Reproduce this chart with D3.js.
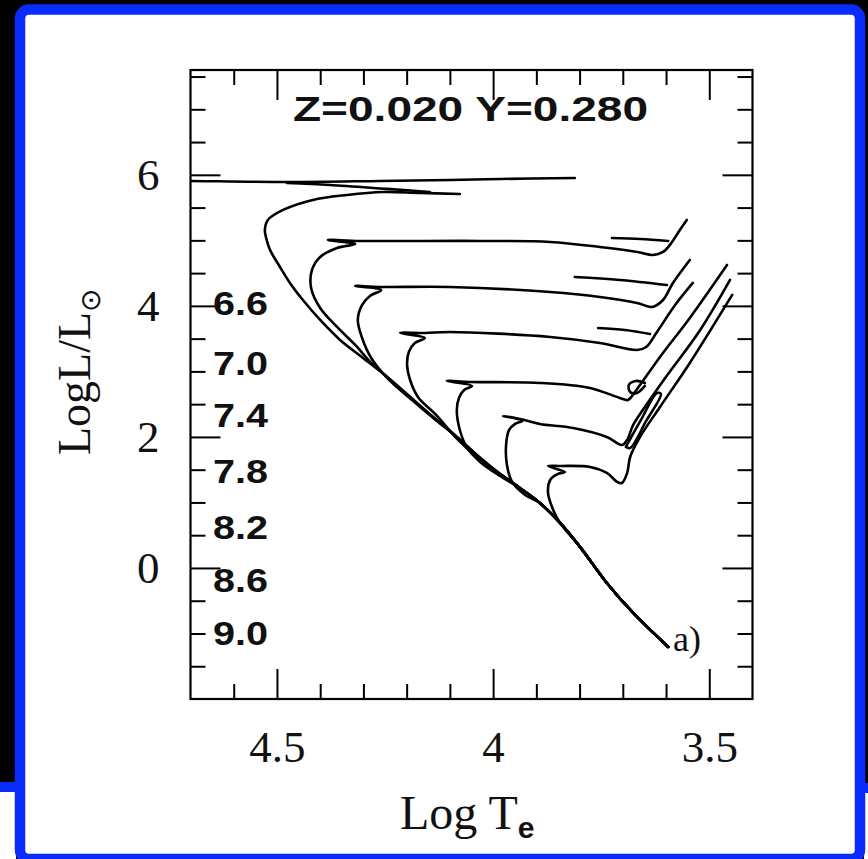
<!DOCTYPE html>
<html><head><meta charset="utf-8">
<script src="https://cdn.jsdelivr.net/npm/d3@7/dist/d3.min.js"></script>
<style>html,body{margin:0;padding:0;background:#000;}svg{display:block;}</style>
</head><body>
<svg id="chart" width="868" height="859"></svg>
<script>
// ---------- data (log Te, log L/Lsun) ----------
const xMajorTicks = [4.5, 4.0, 3.5];
const xMinorTicks = [4.6, 4.4, 4.3, 4.2, 4.1, 3.9, 3.8, 3.7, 3.6];
const yMajorTicks = [0, 2, 4, 6];
const yMinorTicks = [-1.5, -1, -0.5, 0.5, 1, 1.5, 2.5, 3, 3.5, 4.5, 5, 5.5, 6.5, 7, 7.5];
const ageLabels = ["6.6", "7.0", "7.4", "7.8", "8.2", "8.6", "9.0"];
const ageLabelLogL = [4.04, 3.13, 2.33, 1.48, 0.63, -0.18, -0.99];
const ageLabelLogTe = 4.648;
const titleText = "Z=0.020 Y=0.280";
const panelTag = "a)";
const panelTagPos = [3.584, -1.27];

const iso66 = [[3.595,-1.206],[3.676,-0.687],[3.737,-0.229],[3.799,0.321],[3.845,0.687],[3.892,0.992],[3.938,1.221],[3.984,1.435],[4.030,1.679],[4.084,2.000],[4.139,2.305],[4.192,2.610],[4.245,2.915],[4.301,3.205],[4.354,3.480],[4.400,3.785],[4.440,4.090],[4.470,4.350],[4.493,4.594],[4.516,4.853],[4.525,5.037],[4.528,5.159],[4.521,5.311],[4.486,5.464],[4.417,5.617],[4.338,5.693],[4.255,5.739],[4.169,5.723],[4.077,5.708]];
const iso66Top = [[3.811,5.952],[3.984,5.937],[4.100,5.922],[4.262,5.907],[4.470,5.891],[4.699,5.907],[4.724,5.907]];
const iso66Inner = [[4.477,5.876],[4.377,5.845],[4.245,5.785],[4.146,5.739]];

const iso70 = [[3.595,-1.206],[3.676,-0.687],[3.737,-0.229],[3.799,0.321],[3.845,0.687],[3.892,0.992],[3.938,1.221],[3.984,1.435],[4.030,1.679],[4.084,2.000],[4.139,2.305],[4.192,2.610],[4.245,2.915],[4.280,3.114],[4.319,3.404],[4.361,3.678],[4.400,3.968],[4.421,4.274],[4.419,4.548],[4.400,4.747],[4.361,4.884],[4.319,4.945],[4.382,5.006],[4.308,4.991],[4.030,4.991],[3.868,4.976],[3.753,4.899],[3.667,4.823],[3.630,4.777],[3.607,4.823],[3.591,4.930],[3.568,5.159],[3.552,5.311]];
const iso70Loop = [[3.725,5.037],[3.660,5.021],[3.595,4.991]];

const iso74 = [[3.595,-1.206],[3.676,-0.687],[3.737,-0.229],[3.799,0.321],[3.845,0.687],[3.892,0.992],[3.938,1.221],[3.984,1.435],[4.030,1.679],[4.084,2.000],[4.130,2.244],[4.185,2.549],[4.243,2.885],[4.282,3.205],[4.303,3.510],[4.313,3.785],[4.303,4.014],[4.285,4.151],[4.259,4.243],[4.319,4.304],[4.262,4.289],[4.100,4.289],[3.868,4.212],[3.753,4.136],[3.667,4.045],[3.632,3.984],[3.607,4.090],[3.584,4.350],[3.545,4.701]];
const iso74Loop = [[3.811,4.441],[3.707,4.396],[3.598,4.319]];

const iso78 = [[3.595,-1.206],[3.676,-0.687],[3.737,-0.229],[3.799,0.321],[3.845,0.687],[3.892,0.992],[3.938,1.221],[3.984,1.435],[4.030,1.648],[4.081,1.954],[4.134,2.350],[4.174,2.610],[4.192,2.869],[4.199,3.098],[4.195,3.297],[4.181,3.434],[4.158,3.510],[4.215,3.587],[4.158,3.587],[4.100,3.602],[3.868,3.526],[3.753,3.434],[3.667,3.327],[3.646,3.373],[3.621,3.602],[3.579,4.014],[3.538,4.350]];
const iso78Loop = [[3.757,3.663],[3.695,3.632],[3.637,3.571]];

const iso82 = [[3.595,-1.206],[3.676,-0.687],[3.737,-0.229],[3.799,0.321],[3.845,0.687],[3.892,0.992],[3.938,1.221],[3.984,1.404],[4.030,1.618],[4.060,1.832],[4.077,2.106],[4.084,2.411],[4.079,2.595],[4.067,2.717],[4.049,2.778],[4.107,2.854],[4.054,2.839],[3.892,2.824],[3.776,2.747],[3.707,2.595],[3.688,2.564],[3.672,2.686],[3.614,3.220],[3.545,3.816],[3.459,4.624]];
const iso82Loop = [[3.649,2.824],[3.670,2.854],[3.686,2.793],[3.683,2.686],[3.667,2.671],[3.649,2.778]];

const iso86 = [[3.595,-1.206],[3.676,-0.687],[3.737,-0.229],[3.799,0.321],[3.845,0.687],[3.892,0.992],[3.926,1.114],[3.956,1.313],[3.968,1.572],[3.970,1.877],[3.963,2.106],[3.949,2.198],[3.933,2.244],[3.977,2.320],[3.938,2.274],[3.892,2.198],[3.815,2.137],[3.737,2.000],[3.702,1.877],[3.690,1.954],[3.676,2.183],[3.649,2.457],[3.602,2.900],[3.521,3.632],[3.452,4.396]];
const iso86Loop = [[3.693,1.847],[3.658,2.259],[3.621,2.671],[3.612,2.656],[3.646,2.244],[3.683,1.832],[3.693,1.847]];

const iso90 = [[3.595,-1.206],[3.676,-0.687],[3.737,-0.229],[3.799,0.321],[3.845,0.687],[3.861,0.885],[3.873,1.145],[3.868,1.343],[3.850,1.435],[3.834,1.465],[3.873,1.557],[3.845,1.557],[3.776,1.542],[3.737,1.450],[3.713,1.313],[3.702,1.297],[3.690,1.450],[3.683,1.694],[3.660,2.000],[3.614,2.457],[3.545,3.129],[3.447,4.167]];

const allTracks = [iso66, iso66Top, iso66Inner, iso70, iso70Loop, iso74, iso74Loop,
  iso78, iso78Loop, iso82, iso82Loop, iso86, iso86Loop, iso90];

// ---------- drawing ----------
const BLUE = "#0a2cfb";
const svg = d3.select("#chart");
svg.append("rect").attr("width", 868).attr("height", 859).attr("fill", "#000");
svg.append("rect").attr("x", 0).attr("y", 782).attr("width", 16).attr("height", 10).attr("fill", BLUE);
svg.append("rect").attr("x", 0).attr("y", 792).attr("width", 16).attr("height", 67).attr("fill", "#fff");
svg.append("rect").attr("x", 864).attr("y", 783).attr("width", 4).attr("height", 10).attr("fill", BLUE);
svg.append("rect").attr("x", 864).attr("y", 793).attr("width", 4).attr("height", 66).attr("fill", "#fff");
svg.append("rect").attr("x", 20).attr("y", 9.5).attr("width", 840).attr("height", 849.5)
  .attr("rx", 9).attr("fill", "#fff").attr("stroke", BLUE).attr("stroke-width", 10.5);

const x = d3.scaleLinear().domain([4.7, 3.4]).range([190.5, 752.5]);
const y = d3.scaleLinear().domain([-2, 7.6]).range([699, 70]);
const [x0, x1] = x.range();
const [y0, y1] = y.range();

svg.append("defs").append("clipPath").attr("id", "plotclip")
  .append("rect").attr("x", x0).attr("y", y1).attr("width", x1 - x0).attr("height", y0 - y1);

// tracks
const line = d3.line().x(d => x(d[0])).y(d => y(d[1])).curve(d3.curveCatmullRom.alpha(0.5));
svg.append("g").attr("clip-path", "url(#plotclip)")
  .selectAll("path").data(allTracks).join("path")
  .attr("d", line).attr("fill", "none").attr("stroke", "#000")
  .attr("stroke-width", 2.6).attr("stroke-linejoin", "round").attr("stroke-linecap", "round");

// axes (ticks inside on all four sides)
function styleAxis(g) {
  g.select(".domain").remove();
  g.selectAll(".tick line").attr("stroke", "#000").attr("stroke-width", 2);
}
svg.append("g").attr("transform", `translate(0,${y0})`)
  .call(d3.axisBottom(x).tickValues(xMinorTicks).tickSize(-15).tickFormat("")).call(styleAxis);
svg.append("g").attr("transform", `translate(0,${y1})`)
  .call(d3.axisTop(x).tickValues(xMinorTicks).tickSize(-15).tickFormat("")).call(styleAxis);
svg.append("g").attr("transform", `translate(0,${y1})`)
  .call(d3.axisTop(x).tickValues(xMajorTicks).tickSize(-30).tickFormat("")).call(styleAxis);
const xb = svg.append("g").attr("transform", `translate(0,${y0})`)
  .call(d3.axisBottom(x).tickValues(xMajorTicks).tickSize(-30).tickPadding(31).tickFormat(d => String(d)))
  .call(styleAxis);
xb.selectAll("text").attr("font-family", "'Liberation Serif', 'DejaVu Serif', serif").attr("font-size", 45).attr("fill", "#111");

svg.append("g").attr("transform", `translate(${x0},0)`)
  .call(d3.axisLeft(y).tickValues(yMinorTicks).tickSize(-15).tickFormat("")).call(styleAxis);
svg.append("g").attr("transform", `translate(${x1},0)`)
  .call(d3.axisRight(y).tickValues(yMinorTicks).tickSize(-15).tickFormat("")).call(styleAxis);
svg.append("g").attr("transform", `translate(${x1},0)`)
  .call(d3.axisRight(y).tickValues(yMajorTicks).tickSize(-30).tickFormat("")).call(styleAxis);
const yl = svg.append("g").attr("transform", `translate(${x0},0)`)
  .call(d3.axisLeft(y).tickValues(yMajorTicks).tickSize(-30).tickPadding(31).tickFormat(d => String(d)))
  .call(styleAxis);
yl.selectAll("text").attr("font-family", "'Liberation Serif', 'DejaVu Serif', serif").attr("font-size", 45).attr("fill", "#111");

// frame
svg.append("rect").attr("x", x0).attr("y", y1).attr("width", x1 - x0).attr("height", y0 - y1)
  .attr("fill", "none").attr("stroke", "#000").attr("stroke-width", 2.2);

// title
svg.append("text").attr("x", 293).attr("y", 121).attr("textLength", 355).attr("lengthAdjust", "spacingAndGlyphs")
  .attr("font-family", "'Liberation Sans', Arial, sans-serif").attr("font-weight", "bold")
  .attr("font-size", 35).attr("fill", "#111").text(titleText);

// age labels
svg.append("g").selectAll("text").data(ageLabels).join("text")
  .attr("x", x(ageLabelLogTe)).attr("y", (d, i) => y(ageLabelLogL[i]) + 12)
  .attr("textLength", 55).attr("lengthAdjust", "spacingAndGlyphs")
  .attr("font-family", "'Liberation Sans', Arial, sans-serif").attr("font-weight", "bold")
  .attr("font-size", 33).attr("fill", "#111").text(d => d);

// panel tag
svg.append("text").attr("x", x(panelTagPos[0])).attr("y", y(panelTagPos[1]))
  .attr("font-family", "'Liberation Serif', serif").attr("font-size", 36).attr("fill", "#111").text(panelTag);

// axis titles
const xt = svg.append("text").attr("x", 400).attr("y", 829)
  .attr("font-family", "'Liberation Serif', serif").attr("font-size", 48).attr("fill", "#111");
xt.append("tspan").text("Log T");
xt.append("tspan").attr("dy", 9).attr("font-size", 30).attr("font-weight", "bold").attr("font-family", "'Liberation Sans', sans-serif").text("e");

const yt = svg.append("text").attr("transform", "translate(90,372) rotate(-90)").attr("text-anchor", "middle")
  .attr("font-family", "'Liberation Serif', serif").attr("font-size", 46).attr("fill", "#111");
yt.append("tspan").text("LogL/L");
yt.append("tspan").attr("dy", 10).attr("font-size", 28).text("\u2299");
</script>
</body></html>
